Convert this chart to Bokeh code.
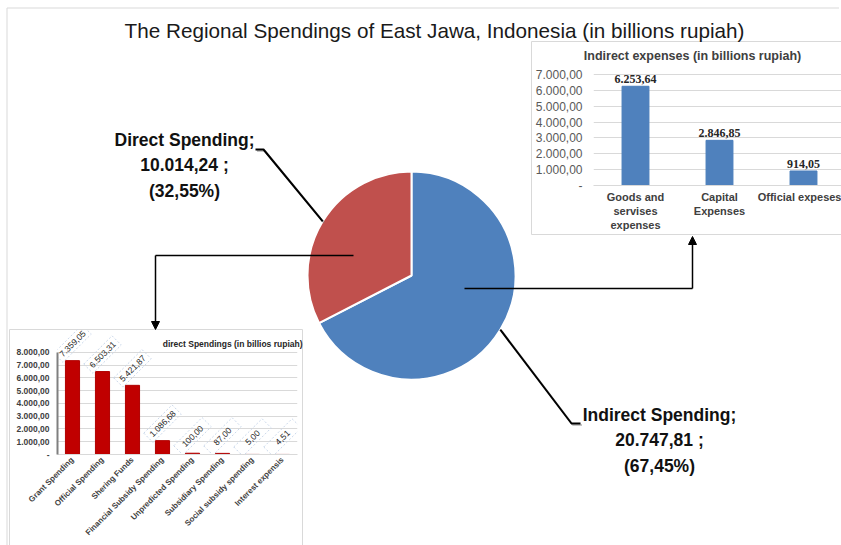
import math
from bokeh.plotting import figure
from bokeh.models import Range1d, FactorRange, FixedTicker, Arrow, NormalHead
from bokeh.embed import file_html
from bokeh.resources import INLINE
from bokeh.core.properties import value

# ---------------- data ----------------
TITLE = "The Regional Spendings of East Jawa, Indonesia (in billions rupiah)"

pie_names = ["Indirect Spending", "Direct Spending"]
pie_values = [20747.81, 10014.24]
pie_colors = ["#4F81BD", "#C0504D"]

indirect_title = "Indirect expenses (in billions rupiah)"
indirect_categories = ["Goods and\nservises\nexpenses", "Capital\nExpenses", "Official expeses"]
indirect_values = [6253.64, 2846.85, 914.05]
indirect_ticks = [0, 1000, 2000, 3000, 4000, 5000, 6000, 7000]

direct_title = "direct Spendings (in billios rupiah)"
direct_categories = ["Grant Spending", "Official Spending", "Shering Funds",
                     "Financial Subsidy Spending", "Unpredicted Spending",
                     "Subsidiary Spending", "Social subsidy spending", "Interest expensis"]
direct_values = [7359.05, 6503.31, 5421.87, 1086.68, 100.00, 87.00, 5.00, 4.51]
direct_ticks = [0, 1000, 2000, 3000, 4000, 5000, 6000, 7000, 8000]


def fmt(v):
    if v == 0:
        return "-"
    s = f"{v:,.2f}"
    return s.replace(",", "_").replace(".", ",").replace("_", ".")


SANS = value("Liberation Sans")
SERIF = value("Liberation Serif")

# ---------------- main slide (window pixel coordinates) ----------------
W, H = 841, 545
main = figure(width=W, height=H, x_range=Range1d(0, W), y_range=Range1d(0, H),
              output_backend="svg", toolbar_location=None,
              x_axis_location=None, y_axis_location=None, min_border=0,
              outline_line_color=None, background_fill_color="white",
              styles={"position": "absolute", "left": "0px", "top": "0px"})
main.xgrid.visible = False
main.ygrid.visible = False


def Y(y):
    return H - y


# slide border
main.line(x=[6.5, 6.5, 838.5], y=[Y(560), Y(7.5), Y(7.5)], line_color="#D9D9D9", line_width=1)

# inset panels (background boxes)
main.quad(left=[531], right=[850], top=[Y(41)], bottom=[Y(234)],
          fill_color="white", line_color="#D9D9D9", line_width=1)
main.quad(left=[9], right=[302], top=[Y(329)], bottom=[Y(560)],
          fill_color="white", line_color="#D9D9D9", line_width=1)

# title
main.text(x=[434], y=[Y(30)], text=[TITLE], text_font=SANS, text_font_size="20.7px",
          text_align="center", text_baseline="middle", text_color="#1a1a1a")

# inset titles
main.text(x=[692], y=[Y(55)], text=[indirect_title], text_font=SANS, text_font_size="12.5px",
          text_font_style="bold", text_align="center", text_baseline="middle",
          text_color="#404040")
main.text(x=[302], y=[Y(343)], text=[direct_title], text_font=SANS, text_font_size="8.5px",
          text_font_style="bold", text_align="right", text_baseline="middle",
          text_color="#262626")

# pie (Excel style: first slice starts at 12 o'clock, clockwise)
cx, cy, r = 411, Y(275), 104
total = sum(pie_values)
starts, ends, mids = [], [], []
cum = 0.0
for v in pie_values:
    a0 = math.pi / 2 - 2 * math.pi * cum / total
    cum += v
    a1 = math.pi / 2 - 2 * math.pi * cum / total
    starts.append(a1)
    ends.append(a0)
    mids.append((a0 + a1) / 2)

main.wedge(x=cx, y=cy, radius=r, start_angle=starts, end_angle=ends,
           fill_color=pie_colors, line_color="white", line_width=2)

# data labels with leader lines
labels = []
for name, v in zip(pie_names, pie_values):
    pct = f"{100 * v / total:.2f}".replace(".", ",")
    labels.append(f"{name};\n{fmt(v)} ;\n({pct}%)")

label_pos = {"Direct Spending": (184, 165), "Indirect Spending": (659, 440)}
elbows = {"Direct Spending": [(263, 149), (255, 149)],
          "Indirect Spending": [(571, 423), (580, 423)]}
for name, txt, m in zip(pie_names, labels, mids):
    px, py = cx + r * math.cos(m), cy + r * math.sin(m)
    xs = [px] + [e[0] for e in elbows[name]]
    ys = [py] + [Y(e[1]) for e in elbows[name]]
    main.line(x=[x + 1.5 for x in xs], y=[y - 1.5 for y in ys], line_color="#7f7f7f",
              line_alpha=0.45, line_width=2)
    main.line(x=xs, y=ys, line_color="black", line_width=2)
    lx, ly = label_pos[name]
    main.text(x=[lx], y=[Y(ly)], text=[txt], text_font=SANS, text_font_size="17.5px",
              text_font_style="bold", text_align="center", text_baseline="middle",
              text_line_height=1.26, text_color="#111111")

# arrows from the pie to the insets
main.line(x=[353, 155], y=[Y(255), Y(255)], line_color="black", line_width=1.5)
main.add_layout(Arrow(end=NormalHead(size=8, fill_color="black", line_color="black"),
                      x_start=155, y_start=Y(255), x_end=155, y_end=Y(329),
                      line_color="black", line_width=1.5))
main.line(x=[464, 692], y=[Y(288), Y(288)], line_color="black", line_width=1.5)
main.add_layout(Arrow(end=NormalHead(size=8, fill_color="black", line_color="black"),
                      x_start=692, y_start=Y(288), x_end=692, y_end=Y(236),
                      line_color="black", line_width=1.5))

# ---------------- top-right inset: indirect expenses ----------------
TRW, TRH = 310, 193
step = 84.0
tr = figure(width=TRW, height=TRH,
            x_range=Range1d(-0.5, -0.5 + (TRW - 62) / step), y_range=Range1d(0, 7500),
            output_backend="svg", toolbar_location=None,
            min_border_left=62, min_border_right=0, min_border_top=25, min_border_bottom=48,
            background_fill_color=None, border_fill_color=None, outline_line_color=None,
            styles={"position": "absolute", "left": "531px", "top": "41px"})
idx = list(range(len(indirect_categories)))
tr.vbar(x=idx, top=indirect_values, width=0.32, fill_color="#4F81BD", line_color="#4A7EBB")
tr.text(x=idx, y=indirect_values, text=[fmt(v) for v in indirect_values],
        text_font=SERIF, text_font_style="bold", text_font_size="12px",
        text_align="center", text_baseline="bottom", y_offset=-3, text_color="#262626")
tr.xaxis.ticker = FixedTicker(ticks=idx)
tr.xaxis.major_label_overrides = {i: c for i, c in zip(idx, indirect_categories)}
tr.xaxis.axis_line_color = "#D9D9D9"
tr.xaxis.major_tick_line_color = None
tr.xaxis.minor_tick_line_color = None
tr.xaxis.major_tick_out = 0
tr.xaxis.major_label_standoff = 5
tr.xaxis.major_label_text_font = "Liberation Sans"
tr.xaxis.major_label_text_font_style = "bold"
tr.xaxis.major_label_text_font_size = "11px"
tr.xaxis.major_label_text_color = "#404040"
tr.yaxis.ticker = FixedTicker(ticks=indirect_ticks)
tr.yaxis.major_label_overrides = {t: fmt(t) for t in indirect_ticks}
tr.yaxis.axis_line_color = None
tr.yaxis.major_tick_line_color = None
tr.yaxis.minor_tick_line_color = None
tr.yaxis.major_tick_out = 0
tr.yaxis.major_label_standoff = 11
tr.yaxis.major_label_text_font = "Liberation Sans"
tr.yaxis.major_label_text_font_size = "12px"
tr.yaxis.major_label_text_color = "#595959"
tr.xgrid.visible = False
tr.ygrid.grid_line_color = "#D9D9D9"

# ---------------- bottom-left inset: direct spendings ----------------
BLW, BLH = 293, 216
bl_top = 9800
bl = figure(width=BLW, height=BLH, x_range=FactorRange(factors=direct_categories),
            y_range=Range1d(0, bl_top), output_backend="svg", toolbar_location=None,
            min_border_left=48, min_border_right=5, min_border_top=0, min_border_bottom=91,
            background_fill_color=None, border_fill_color=None, outline_line_color=None,
            styles={"position": "absolute", "left": "9px", "top": "329px"})
px_per = (BLH - 91) / bl_top
bl.vbar(x=direct_categories, top=direct_values, width=0.47, fill_color="#C00000",
        line_color="#B00000")
bl.rect(x=direct_categories, y=[v + 17 / px_per for v in direct_values],
        width=40, height=13, width_units="screen", height_units="screen",
        angle=math.pi / 4, fill_color=None, line_color="#C9D7EA", line_dash="2 2",
        line_width=1)
bl.text(x=direct_categories, y=direct_values, text=[fmt(v) for v in direct_values],
        angle=math.pi / 4, text_font=SANS, text_font_size="8.5px", text_align="center",
        text_baseline="middle", y_offset=-17, text_color="#262626")
bl.xaxis.axis_line_color = "#D9D9D9"
bl.xaxis.major_tick_line_color = None
bl.xaxis.minor_tick_line_color = None
bl.xaxis.major_tick_out = 0
bl.xaxis.major_label_standoff = 4
bl.xaxis.major_label_orientation = math.pi / 4
bl.xaxis.major_label_text_font = "Liberation Sans"
bl.xaxis.major_label_text_font_style = "bold"
bl.xaxis.major_label_text_font_size = "8px"
bl.xaxis.major_label_text_color = "#404040"
bl.yaxis.ticker = FixedTicker(ticks=direct_ticks)
bl.yaxis.major_label_overrides = {t: fmt(t) for t in direct_ticks}
bl.yaxis.bounds = (0, direct_ticks[-1])
bl.yaxis.axis_line_color = "#7F7F7F"
bl.yaxis.axis_line_width = 2
bl.yaxis.major_tick_line_color = None
bl.yaxis.minor_tick_line_color = None
bl.yaxis.major_tick_out = 0
bl.yaxis.major_label_standoff = 8
bl.yaxis.major_label_text_font = "Liberation Sans"
bl.yaxis.major_label_text_font_style = "bold"
bl.yaxis.major_label_text_font_size = "8.5px"
bl.yaxis.major_label_text_color = "#404040"
bl.xgrid.visible = False
bl.ygrid.grid_line_color = "#D9D9D9"

open("out.html", "w").write(file_html([main, tr, bl], INLINE))
